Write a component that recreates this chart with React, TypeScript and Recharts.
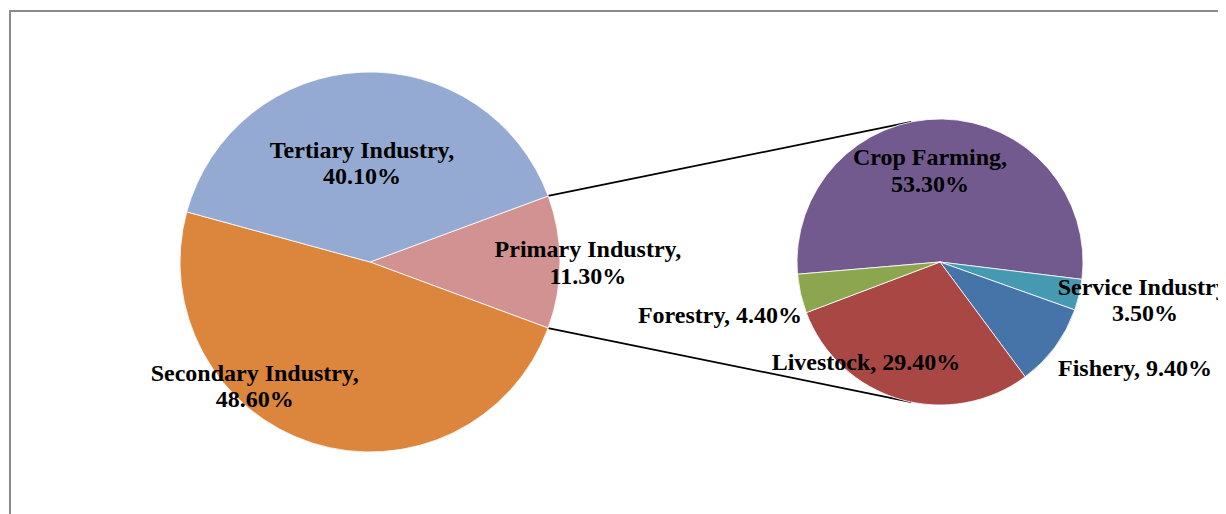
import React from 'react';
import { PieChart, Pie, Cell, Customized } from 'recharts';

// Main pie: economy by sector (share, %)
const mainNames = ['Primary Industry', 'Secondary Industry', 'Tertiary Industry'];
const mainValues = [11.3, 48.6, 40.1];

// Secondary pie: breakdown of the primary industry (share, %)
const subNames = ['Crop Farming', 'Service Industry', 'Fishery', 'Livestock', 'Forestry'];
const subValues = [53.3, 3.5, 9.4, 29.4, 4.4];

const MAIN_COLORS = ['#D39292', '#DC853D', '#95AAD2'];
const SUB_COLORS = ['#725A8F', '#4599B0', '#4674A8', '#A94745', '#8CA64F'];

// Label placement: [angle in degrees, distance as a fraction of the radius], and whether it wraps
const LABEL_LAYOUT: Record<string, { angle: number; frac: number; wrap: boolean }> = {
  'Primary Industry': { angle: 0, frac: 1.147, wrap: true },
  'Secondary Industry': { angle: -133, frac: 0.89, wrap: true },
  'Tertiary Industry': { angle: 94.6, frac: 0.525, wrap: true },
  'Crop Farming': { angle: 96.2, frac: 0.647, wrap: true },
  'Service Industry': { angle: -10.5, frac: 1.458, wrap: true },
  Fishery: { angle: -28.5, frac: 1.552, wrap: false },
  Livestock: { angle: -126.5, frac: 0.87, wrap: false },
  Forestry: { angle: -166.5, frac: 1.582, wrap: false },
};

const W = 1218;
const H = 506;
const MAIN = { cx: 362, cy: 254, r: 190 };
const SUB = { cx: 932, cy: 254, r: 143 };
const RAD = Math.PI / 180;

const mainData = mainNames.map((name, i) => ({ name, value: mainValues[i] }));
const subData = subNames.map((name, i) => ({ name, value: subValues[i] }));

// primary slice is centred on 3 o'clock
const primaryHalf = (mainValues[0] / 100) * 180;
const mainStart = primaryHalf;
// secondary pie rotated so crop farming ends slightly below 3 o'clock
const subStart = 184.9;

const renderLabel = (props: any) => {
  const { cx, cy, outerRadius, name, value } = props;
  const lay = LABEL_LAYOUT[name];
  if (!lay) return null;
  const x = cx + outerRadius * lay.frac * Math.cos(lay.angle * RAD);
  const y = cy - outerRadius * lay.frac * Math.sin(lay.angle * RAD);
  const pct = `${Number(value).toFixed(2)}%`;
  const style = {
    fontFamily: '"Liberation Serif", "Times New Roman", serif',
    fontWeight: 700,
    fontSize: 24,
    fill: '#000',
  };
  if (lay.wrap) {
    return (
      <text x={x} y={y} textAnchor="middle" dominantBaseline="central" style={style}>
        <tspan x={x} dy={-13}>{`${name},`}</tspan>
        <tspan x={x} dy={26.5}>{pct}</tspan>
      </text>
    );
  }
  return (
    <text x={x} y={y} textAnchor="middle" dominantBaseline="central" style={style}>
      {`${name}, ${pct}`}
    </text>
  );
};

const Connectors = () => {
  const a = primaryHalf * RAD;
  const b = 101.6 * RAD;
  const x1 = MAIN.cx + MAIN.r * Math.cos(a);
  const yTop = MAIN.cy - MAIN.r * Math.sin(a);
  const yBot = MAIN.cy + MAIN.r * Math.sin(a);
  const x2 = SUB.cx + SUB.r * Math.cos(b);
  const y2Top = SUB.cy - SUB.r * Math.sin(b);
  const y2Bot = SUB.cy + SUB.r * Math.sin(b);
  return (
    <g stroke="#000" strokeWidth={1.8}>
      <line x1={x1} y1={yTop} x2={x2} y2={y2Top} />
      <line x1={x1} y1={yBot} x2={x2} y2={y2Bot} />
    </g>
  );
};

export default function App() {
  return (
    <div style={{ position: 'relative', width: W, height: H, overflow: 'hidden', background: '#fff' }}>
      <div
        style={{
          position: 'absolute',
          left: 1,
          top: 2,
          width: W + 50,
          height: H + 50,
          border: '2px solid #8a8a8a',
          boxSizing: 'border-box',
        }}
      />
      <div style={{ position: 'absolute', left: 0, top: 0 }}>
        <PieChart width={W} height={H} margin={{ top: 0, right: 0, bottom: 0, left: 0 }}>
          <Pie
            data={mainData}
            dataKey="value"
            nameKey="name"
            cx={MAIN.cx}
            cy={MAIN.cy}
            outerRadius={MAIN.r}
            startAngle={mainStart}
            endAngle={mainStart - 360}
            stroke="#ffffff"
            strokeWidth={0.8}
            label={renderLabel}
            labelLine={false}
            isAnimationActive={false}
          >
            {mainData.map((d, i) => (
              <Cell key={d.name} fill={MAIN_COLORS[i]} />
            ))}
          </Pie>
          <Pie
            data={subData}
            dataKey="value"
            nameKey="name"
            cx={SUB.cx}
            cy={SUB.cy}
            outerRadius={SUB.r}
            startAngle={subStart}
            endAngle={subStart - 360}
            stroke="#ffffff"
            strokeWidth={0.8}
            label={renderLabel}
            labelLine={false}
            isAnimationActive={false}
          >
            {subData.map((d, i) => (
              <Cell key={d.name} fill={SUB_COLORS[i]} />
            ))}
          </Pie>
          <Customized component={Connectors} />
        </PieChart>
      </div>
    </div>
  );
}
